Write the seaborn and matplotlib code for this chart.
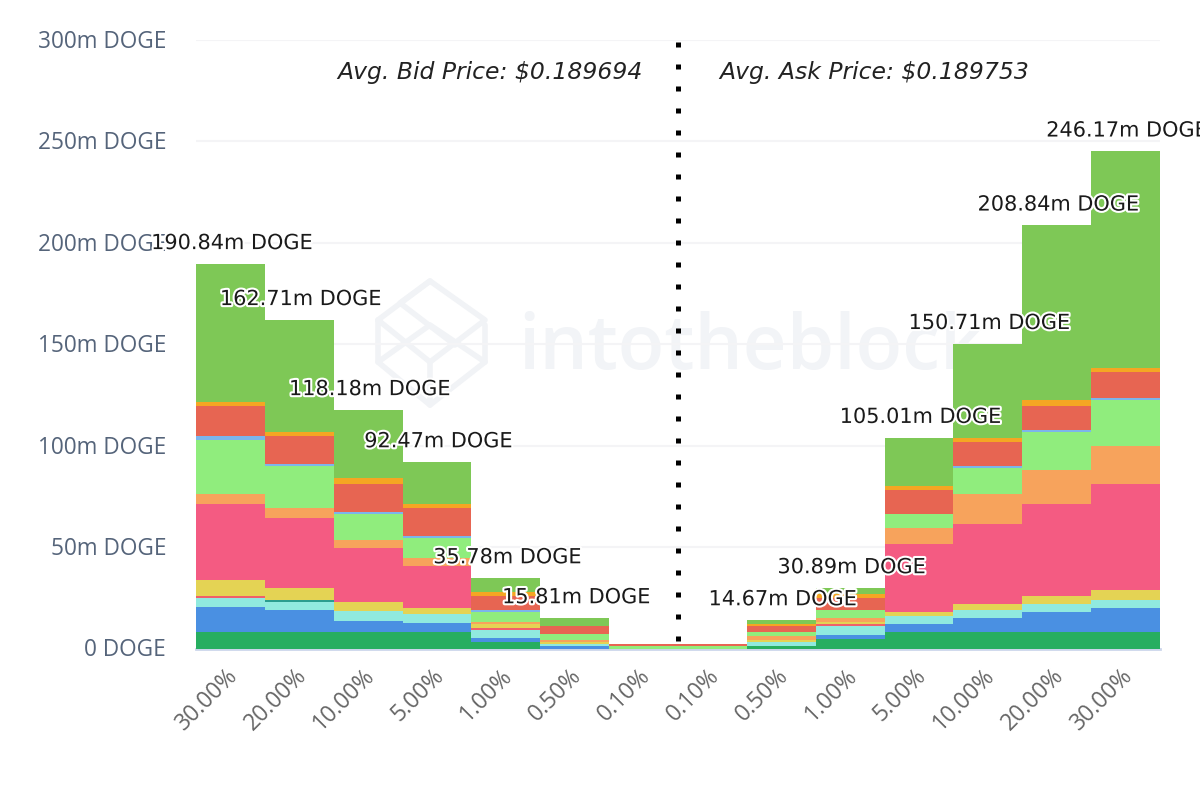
import numpy as np
import matplotlib
matplotlib.use("Agg")
import matplotlib.pyplot as plt
import matplotlib.patheffects as pe
from matplotlib.lines import Line2D
from matplotlib.transforms import ScaledTranslation
import seaborn as sns

tick_labels = ["30.00%", "20.00%", "10.00%", "5.00%", "1.00%", "0.50%", "0.10%",
               "0.10%", "0.50%", "1.00%", "5.00%", "10.00%", "20.00%", "30.00%"]
categories = ["bid " + t for t in tick_labels[:7]] + ["ask " + t for t in tick_labels[7:]]

# stacked bottom to top, values in millions of DOGE
dark_green = [7.9, 7.9, 7.9, 7.9, 3.0, 0.0, 0.0, 0.0, 1.0, 4.9, 7.9, 7.9, 7.9, 7.9]
blue = [12.8, 10.9, 5.9, 4.9, 2.0, 1.0, 0.0, 0.0, 0.0, 2.0, 4.0, 6.9, 9.9, 11.9]
cyan = [4.0, 4.0, 4.9, 4.0, 4.0, 1.0, 0.0, 0.0, 2.0, 4.0, 4.0, 4.0, 4.0, 4.0]
teal = [0.0, 1.0, 0.0, 0.0, 0.0, 0.0, 0.0, 0.0, 0.0, 0.0, 0.0, 0.0, 0.0, 0.0]
yellow = [7.9, 5.9, 4.0, 3.0, 2.0, 1.0, 0.0, 0.0, 1.0, 1.0, 2.0, 3.0, 4.0, 4.9]
thin_red = [1.0, 0.0, 0.0, 0.0, 1.0, 0.0, 0.0, 0.0, 0.0, 1.0, 0.0, 0.0, 0.0, 0.0]
pink = [37.5, 34.6, 26.7, 20.7, 0.0, 0.0, 0.0, 0.0, 0.0, 0.0, 33.6, 39.5, 45.4, 52.3]
orange = [4.9, 4.9, 4.0, 4.0, 1.0, 1.0, 0.0, 0.0, 2.0, 2.0, 7.9, 14.8, 16.8, 18.8]
light_green = [26.7, 20.7, 12.8, 9.9, 4.9, 3.0, 1.0, 1.0, 2.0, 4.0, 6.9, 12.8, 18.8, 22.7]
light_blue = [2.0, 1.0, 1.0, 1.0, 1.0, 0.0, 0.0, 0.0, 0.0, 0.0, 0.0, 1.0, 1.0, 1.0]
red = [14.8, 13.8, 13.8, 13.8, 6.9, 4.0, 1.0, 1.0, 3.0, 5.9, 11.9, 11.9, 11.9, 13.0]
amber = [2.0, 2.0, 3.0, 2.0, 2.0, 0.0, 0.0, 0.0, 1.0, 2.0, 2.0, 2.0, 3.0, 2.0]
green = [68.1, 55.3, 33.6, 20.7, 6.9, 4.0, 0.0, 0.0, 2.0, 3.0, 23.7, 46.4, 85.9, 106.6]

stack = [
    (dark_green, "#27ae60"), (blue, "#4a90e2"), (cyan, "#90eadf"), (teal, "#2a9d8f"),
    (thin_red, "#f0606a"), (yellow, "#e4d354"), (pink, "#f45b82"), (orange, "#f7a35c"),
    (light_green, "#90ed7d"), (light_blue, "#7cb5ec"), (red, "#e76552"),
    (amber, "#f5a623"), (green, "#7ec856"),
]

bar_labels = ["190.84m DOGE", "162.71m DOGE", "118.18m DOGE", "92.47m DOGE", "35.78m DOGE",
              "15.81m DOGE", "", "", "14.67m DOGE", "30.89m DOGE", "105.01m DOGE",
              "150.71m DOGE", "208.84m DOGE", "246.17m DOGE"]

y_ticks = [0, 50, 100, 150, 200, 250, 300]
y_tick_labels = ["0 DOGE", "50m DOGE", "100m DOGE", "150m DOGE", "200m DOGE", "250m DOGE", "300m DOGE"]

sns.set_theme(style="white")
plt.rcParams["font.family"] = ["Open Sans", "DejaVu Sans"]

W, H = 1200, 800
fig = plt.figure(figsize=(12, 8), dpi=100)
ax = fig.add_axes([196 / W, 1 - 648.5 / H, 964 / W, 608.5 / H])
ax.set_zorder(2)
ax.patch.set_alpha(0)


def px(x, y):
    return x / W, 1 - y / H


# faint watermark behind everything
logo = [
    [(378, 320), (430, 281), (485, 320), (430, 362), (378, 320), (378, 362), (430, 405), (485, 362), (485, 325)],
    [(430, 281), (400, 303), (455, 345)],
    [(378, 362), (430, 325), (485, 362)],
    [(430, 362), (430, 405)],
]
for pts in logo:
    xs, ys = zip(*[px(*p) for p in pts])
    fig.add_artist(Line2D(xs, ys, color="#f1f3f6", lw=4, zorder=0))
fig.text(*px(518, 349), "intotheblock", color="#f2f4f7", fontsize=55, fontweight="semibold",
         va="center", ha="left", family="Open Sans", zorder=0)

bottom = np.zeros(len(categories))
for values, colour in stack:
    sns.barplot(x=categories, y=values, bottom=bottom, color=colour, width=1.0,
                saturation=1, linewidth=0, errorbar=None, ax=ax, zorder=3)
    bottom += np.array(values)

ax.set_xlim(-0.5, 13.5)
ax.set_ylim(0, 300)
ax.set_yticks(y_ticks)
ax.set_yticklabels(y_tick_labels, color="#55647a", fontsize=16.3)
ax.set_xticks(range(len(tick_labels)))
ax.set_xticklabels(tick_labels, rotation=45, ha="right", rotation_mode="anchor",
                   color="#666666", fontsize=16.5)
ax.tick_params(axis="y", length=0, pad=21.5)
ax.tick_params(axis="x", length=0, pad=11)
x_shift = ScaledTranslation(-5 / 100, 0, fig.dpi_scale_trans)
for lab in ax.get_xticklabels():
    lab.set_transform(lab.get_transform() + x_shift)
y_shift = ScaledTranslation(0, 1 / 100, fig.dpi_scale_trans)
for lab in ax.get_yticklabels():
    lab.set_transform(lab.get_transform() + y_shift)
ax.set_xlabel("")
ax.set_ylabel("")
ax.grid(axis="y", color="#f4f4f6", lw=1.5, zorder=1)
ax.set_axisbelow(True)
sns.despine(ax=ax, left=True, right=True, top=True, bottom=False)
ax.spines["bottom"].set_color("#ccd6eb")
ax.spines["bottom"].set_linewidth(2)

# divider between bid and ask side
ax.axvline(6.5, ymin=0.013, ymax=1, color="black", lw=3.6, ls=(0, (1, 3.4)), zorder=5)

for i, label in enumerate(bar_labels):
    if label:
        ax.annotate(label, (i, bottom[i]), xytext=(1, 15), textcoords="offset points",
                    ha="center", va="center", fontsize=15, color="#1a1a1a", zorder=6,
                    family="DejaVu Sans", annotation_clip=False,
                    path_effects=[pe.withStroke(linewidth=3, foreground="white")])

fig.text(*px(337, 72), "Avg. Bid Price: $0.189694", style="italic", fontsize=16.9,
         color="#222222", va="center", ha="left", family="DejaVu Sans", zorder=5)
fig.text(*px(719, 72), "Avg. Ask Price: $0.189753", style="italic", fontsize=16.9,
         color="#222222", va="center", ha="left", family="DejaVu Sans", zorder=5)

fig.savefig("out.png", dpi=100)
